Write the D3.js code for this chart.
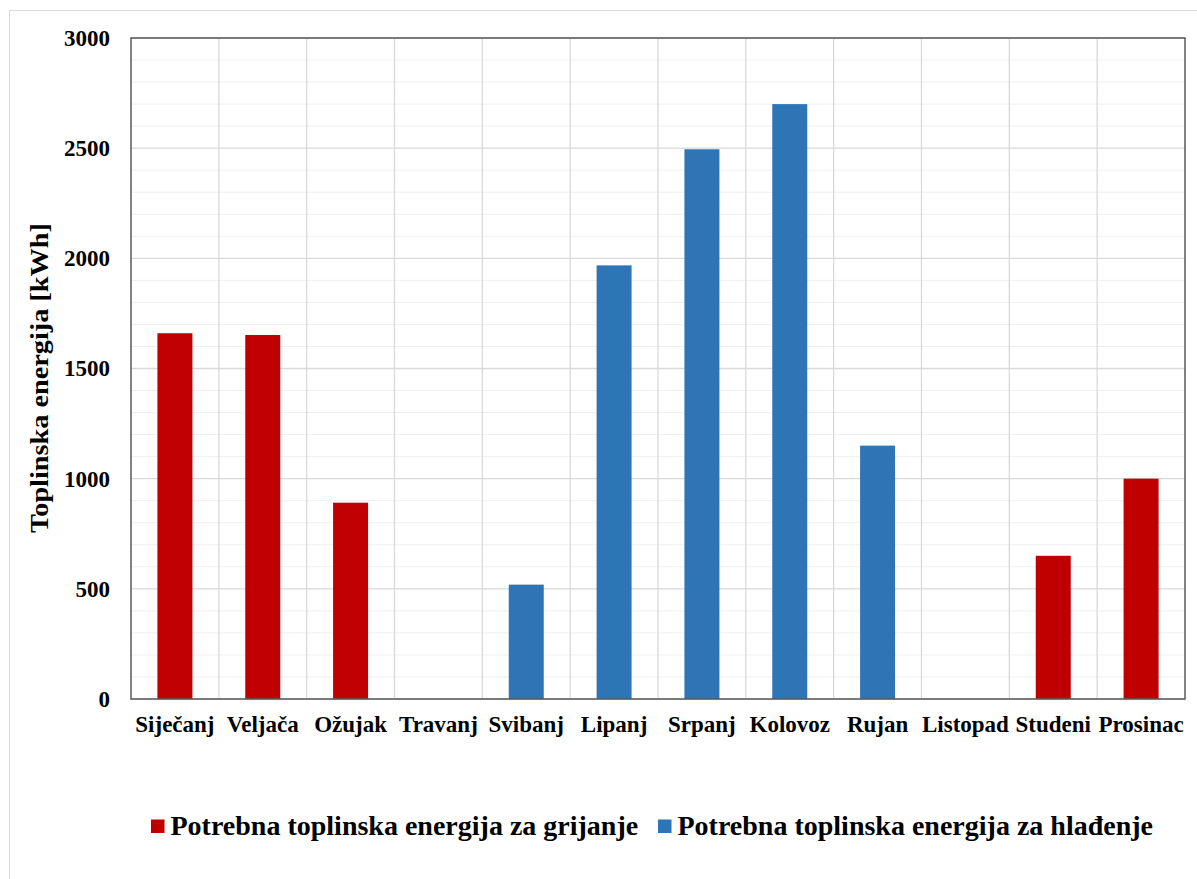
<!DOCTYPE html>
<html><head><meta charset="utf-8">
<script src="https://cdn.jsdelivr.net/npm/d3@7"></script>
<style>body{margin:0;background:#fff}svg{display:block}text{font-family:"Liberation Serif","Times New Roman",serif;font-weight:bold;fill:#000}</style>
</head><body>
<script>
const months = ["Siječanj","Veljača","Ožujak","Travanj","Svibanj","Lipanj","Srpanj","Kolovoz","Rujan","Listopad","Studeni","Prosinac"];
const heating = [1660,1652,891,0,0,0,0,0,0,0,650,1000];
const cooling = [0,0,0,0,519,1968,2495,2700,1150,0,0,0];
const seriesNames = ["Potrebna toplinska energija za grijanje","Potrebna toplinska energija za hlađenje"];
const seriesColors = ["#C00000","#2E75B6"];
const yTicks = [0,500,1000,1500,2000,2500,3000];

const W=1197,H=879;
const svg=d3.select("body").append("svg").attr("width",W).attr("height",H);
svg.append("rect").attr("x",9.5).attr("y",10.5).attr("width",W).attr("height",H).attr("fill","#fff").attr("stroke","#d9d9d9").attr("stroke-width",1);
const m={l:131,r:1185,t:38,b:699};
const x=d3.scaleBand().domain(months).range([m.l,m.r]).paddingInner(0).paddingOuter(0);
const y=d3.scaleLinear().domain([0,3000]).range([m.b,m.t]);
const g=svg.append("g");
g.selectAll(".minor").data(d3.range(0,3001,100).filter(v=>v%500!==0)).enter().append("line")
 .attr("x1",m.l).attr("x2",m.r).attr("y1",d=>y(d)).attr("y2",d=>y(d)).attr("stroke","#efefef").attr("stroke-width",1);
g.selectAll(".major").data(yTicks).enter().append("line")
 .attr("x1",m.l).attr("x2",m.r).attr("y1",d=>y(d)).attr("y2",d=>y(d)).attr("stroke","#d9d9d9").attr("stroke-width",1.3);
g.selectAll(".vg").data(months.slice(1)).enter().append("line")
 .attr("x1",d=>x(d)).attr("x2",d=>x(d)).attr("y1",m.t).attr("y2",m.b).attr("stroke","#d9d9d9").attr("stroke-width",1.3);
const bw=35;
const data=months.map((mo,i)=>({mo,v:heating[i]>0?heating[i]:cooling[i],s:heating[i]>0?0:1})).filter(d=>d.v>0);
g.selectAll(".bar").data(data).enter().append("rect")
 .attr("x",d=>x(d.mo)+x.bandwidth()/2-bw/2).attr("width",bw)
 .attr("y",d=>y(d.v)).attr("height",d=>y(0)-y(d.v)).attr("fill",d=>seriesColors[d.s]);
svg.append("rect").attr("x",m.l).attr("y",m.t).attr("width",m.r-m.l).attr("height",m.b-m.t).attr("fill","none").attr("stroke","#595959").attr("stroke-width",1.5);
const ya=svg.append("g").attr("transform",`translate(${m.l},0)`)
 .call(d3.axisLeft(y).tickValues(yTicks).tickFormat(d3.format("d")).tickSize(0).tickPadding(21));
ya.attr("font-family",null).attr("font-size",null);
ya.select(".domain").remove();
ya.selectAll("text").attr("font-size",23).attr("font-family","Liberation Serif").attr("font-weight","bold").attr("fill","#000");
const xa=svg.append("g").attr("transform",`translate(0,${m.b})`).call(d3.axisBottom(x).tickSize(0).tickPadding(17));
xa.attr("font-family",null).attr("font-size",null);
xa.select(".domain").remove();
xa.selectAll("text").attr("font-size",23).attr("font-family","Liberation Serif").attr("font-weight","bold").attr("fill","#000");
svg.append("text").attr("transform","translate(48,378) rotate(-90)").attr("text-anchor","middle").attr("font-size",25)
 .attr("textLength",310).attr("lengthAdjust","spacingAndGlyphs").text("Toplinska energija [kWh]");
const lg=svg.append("g");
const lx=[151,658];
seriesNames.forEach((n,i)=>{
 lg.append("rect").attr("x",lx[i]).attr("y",819.5).attr("width",13.5).attr("height",13.5).attr("fill",seriesColors[i]);
 lg.append("text").attr("x",lx[i]+19.5).attr("y",835).attr("font-size",28).text(n);
});
</script>
</body></html>
